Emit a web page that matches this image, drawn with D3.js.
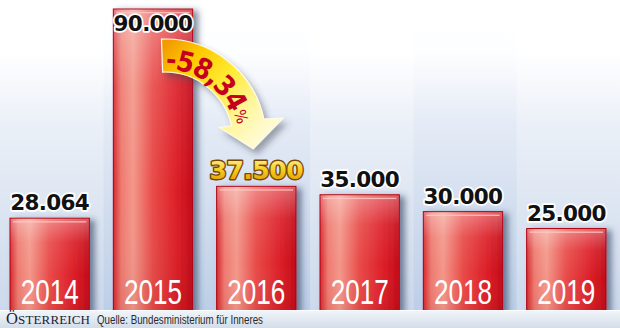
<!DOCTYPE html>
<html><head><meta charset="utf-8">
<script src="https://cdn.jsdelivr.net/npm/d3@7/dist/d3.min.js"></script>
<style>html,body{margin:0;padding:0;background:#fff;overflow:hidden}svg{display:block}</style>
</head><body>
<script>
const years = ["2014","2015","2016","2017","2018","2019"];
const values = [28064, 90000, 37500, 35000, 30000, 25000];
const valueLabels = ["28.064","90.000","37.500","35.000","30.000","25.000"];
const changeLabel = "-58,34";
const changeUnit = "%";
const highlightYear = "2016";
const darkColumns = ["2015","2016","2018"];
const brandText = ["Ö","STERREICH"];
const sourceText = "Quelle: Bundesministerium für Inneres";

const W = 620, H = 328, footerY = 310;
const svg = d3.select("body").append("svg").attr("width", W).attr("height", H);
const defs = svg.append("defs");

const x = d3.scaleBand().domain(years).range([0, W]).padding(0);
const y = d3.scaleLinear().domain([0, d3.max(values)]).range([313, 9]);

function vgrad(id, stops, x1=0,y1=0,x2=0,y2=1, units) {
  const g = defs.append("linearGradient").attr("id", id)
    .attr("x1", x1).attr("y1", y1).attr("x2", x2).attr("y2", y2);
  if (units) g.attr("gradientUnits", units);
  stops.forEach(s => g.append("stop").attr("offset", s[0]).attr("stop-color", s[1]).attr("stop-opacity", s[2] == null ? 1 : s[2]));
  return g;
}
vgrad("bgLight", [[0,"#ffffff"],[0.17,"#ffffff"],[0.4,"#ebf0f8"],[0.7,"#dbe4f1"],[1,"#ccd9ec"]]);
vgrad("bgDark", [[0,"#ffffff"],[0.17,"#fdfeff"],[0.4,"#e4ebf6"],[0.7,"#d0dcee"],[1,"#bccfe8"]]);
vgrad("barH", [[0,"#d52a2e"],[0.1,"#ee7a70"],[0.25,"#f3978a"],[0.5,"#e84a48"],[0.8,"#dc1f28"],[1,"#c20b18"]], 0,0,1,0);
vgrad("barV", [[0,"#ffffff",0.35],[0.25,"#ffffff",0.08],[0.6,"#ffffff",0],[1,"#000000",0.05]]);
vgrad("footer", [[0,"#f2f6fa"],[1,"#d3dde9"]]);
vgrad("gold", [[0,"#fff7b0"],[0.45,"#f7cf20"],[1,"#d99000"]]);
vgrad("arrowG", [[0,"#f29a00"],[0.22,"#ffc800"],[0.5,"#ffea30"],[0.8,"#fff6a0"],[1,"#fffbd0"]], 160,50,255,140,"userSpaceOnUse");

const sh = defs.append("filter").attr("id","shadow").attr("x","-30%").attr("y","-30%").attr("width","170%").attr("height","170%");
sh.append("feDropShadow").attr("dx",5).attr("dy",2).attr("stdDeviation",3).attr("flood-color","#2c3c5c").attr("flood-opacity",0.6);
const ash = defs.append("filter").attr("id","ashadow").attr("x","-30%").attr("y","-30%").attr("width","170%").attr("height","170%");
ash.append("feDropShadow").attr("dx",4).attr("dy",5).attr("stdDeviation",3).attr("flood-color","#3a4050").attr("flood-opacity",0.45);

defs.append("clipPath").attr("id","plotClip").append("rect").attr("x",0).attr("y",0).attr("width",W).attr("height",footerY);

// background columns
svg.append("g").selectAll("rect").data(years).join("rect")
  .attr("x", d => x(d)).attr("y", 0).attr("width", x.bandwidth()+0.5).attr("height", footerY)
  .attr("fill", d => darkColumns.includes(d) ? "url(#bgDark)" : "url(#bgLight)");

const data = years.map((yr, i) => ({year: yr, value: values[i], label: valueLabels[i]}));
const bx = d => x(d.year) + 10, bw = x.bandwidth() - 24;

const bars = svg.append("g").attr("clip-path","url(#plotClip)");
bars.selectAll("rect.b").data(data).join("rect").attr("class","b")
  .attr("x", bx).attr("y", d => y(d.value)).attr("width", bw).attr("height", d => y(0) - y(d.value))
  .attr("fill","url(#barH)").attr("stroke","#b0000e").attr("stroke-width",1).attr("filter","url(#shadow)");
bars.selectAll("rect.v").data(data).join("rect").attr("class","v")
  .attr("x", d => bx(d)+0.5).attr("y", d => y(d.value)+0.5).attr("width", bw-1).attr("height", d => y(0) - y(d.value))
  .attr("fill","url(#barV)");
bars.selectAll("rect.hl").data(data).join("rect").attr("class","hl")
  .attr("x", d => bx(d)+3).attr("y", d => y(d.value)+3).attr("width", bw-6).attr("height", 1.3)
  .attr("fill","#ffc8c0").attr("opacity",0.85);

// year labels
svg.append("g").selectAll("text").data(data).join("text")
  .attr("x", d => bx(d) + bw/2).attr("y", 304).attr("text-anchor","middle")
  .attr("font-family","'Liberation Sans', Arial, sans-serif").attr("font-size",35).attr("fill","#ffffff")
  .attr("textLength",58).attr("lengthAdjust","spacingAndGlyphs")
  .text(d => d.year);

// footer
svg.append("rect").attr("x",0).attr("y",footerY).attr("width",W).attr("height",H-footerY).attr("fill","url(#footer)");
svg.append("rect").attr("x",0).attr("y",footerY).attr("width",W).attr("height",1).attr("fill","#ffffff").attr("opacity",0.8);
const brand = svg.append("text").attr("x",6).attr("y",324)
  .attr("font-family","'Liberation Serif','Times New Roman',serif").attr("fill","#1b1d36")
  .attr("textLength",84).attr("lengthAdjust","spacing");
brand.append("tspan").attr("font-size",16.5).text(brandText[0]);
brand.append("tspan").attr("font-size",13).text(brandText[1]);
svg.append("text").attr("x",97).attr("y",323.5)
  .attr("font-family","'Liberation Sans',Arial,sans-serif").attr("font-size",12).attr("fill","#2a2a2a")
  .attr("textLength",166).attr("lengthAdjust","spacingAndGlyphs").text(sourceText);

// value labels
const maxV = d3.max(values);
svg.append("g").selectAll("text").data(data.filter(d => d.year !== highlightYear)).join("text")
  .attr("x", d => bx(d) + bw/2)
  .attr("y", d => d.value === maxV ? y(d.value) + 22 : y(d.value) - 8)
  .attr("text-anchor","middle")
  .attr("font-family","'DejaVu Sans',sans-serif").attr("font-weight","bold").attr("font-size",21.5)
  .attr("letter-spacing",-0.7)
  .attr("fill","#111111").attr("stroke","#ffffff").attr("stroke-width",3.5)
  .attr("stroke-linejoin","round").attr("paint-order","stroke")
  .text(d => d.label);
const hd = data.find(d => d.year === highlightYear);
svg.append("text").attr("x", bx(hd) + bw/2 + 0).attr("y", y(hd.value) - 7)
  .attr("text-anchor","middle")
  .attr("font-family","'DejaVu Sans',sans-serif").attr("font-weight","bold").attr("font-size",25)
  .attr("letter-spacing",-0.5)
  .attr("fill","url(#gold)").attr("stroke","#7a4504").attr("stroke-width",2.8)
  .attr("stroke-linejoin","round").attr("paint-order","stroke")
  .text(hd.label);

// arrow
const cx = 165, cy = 140, r0 = 68, r1 = 101, a0 = -92, a1 = -12;
const rad = a => a * Math.PI / 180;
const P = (r, a) => [cx + r*Math.cos(rad(a)), cy + r*Math.sin(rad(a))];
const rm = (r0 + r1) / 2;
const bm = P(rm, a1);
const tan = [-Math.sin(rad(a1)), Math.cos(rad(a1))];
const tip = [bm[0] + tan[0]*27, bm[1] + tan[1]*27];
const ho = P(120, a1 + 1.5), hi = P(56, a1 - 1);
const os = P(r1, a0), ie = P(r0, a1);
const ap = d3.path();
ap.moveTo(...os);
ap.arc(cx, cy, r1, rad(a0), rad(a1), false);
ap.lineTo(...ho); ap.lineTo(...tip); ap.lineTo(...hi); ap.lineTo(...ie);
ap.arc(cx, cy, r0, rad(a1), rad(a0), true);
ap.closePath();
svg.append("path").attr("d", ap.toString()).attr("fill","url(#arrowG)")
  .attr("stroke","#fffbe6").attr("stroke-width",1.2).attr("filter","url(#ashadow)");

const rt = 71, startA = -96, offs = 8;
const tp = d3.path();
tp.moveTo(...P(rt, startA));
tp.arc(cx, cy, rt, rad(startA), rad(10), false);
defs.append("path").attr("id","tpath").attr("d", tp.toString());
const ct = svg.append("text").attr("font-family","'DejaVu Sans Condensed','DejaVu Sans',sans-serif")
  .attr("font-weight","bold").attr("fill","#c4001c");
ct.append("textPath").attr("href","#tpath").attr("startOffset", offs)
  .append("tspan").attr("font-size",28).attr("letter-spacing",-1.3).text(changeLabel);
// unit placed right after the arc text
const len = ct.node().getComputedTextLength();
const endA = startA + (offs + len) / rt * 180 / Math.PI;
const ua = endA + 6, up = P(rt + 3, ua);
svg.append("text").attr("transform", `translate(${up[0]},${up[1]}) rotate(${ua+90})`)
  .attr("text-anchor","middle").attr("font-family","'DejaVu Sans Condensed','DejaVu Sans',sans-serif")
  .attr("font-size",16).attr("fill","#c4001c").text(changeUnit);
</script>
</body></html>
